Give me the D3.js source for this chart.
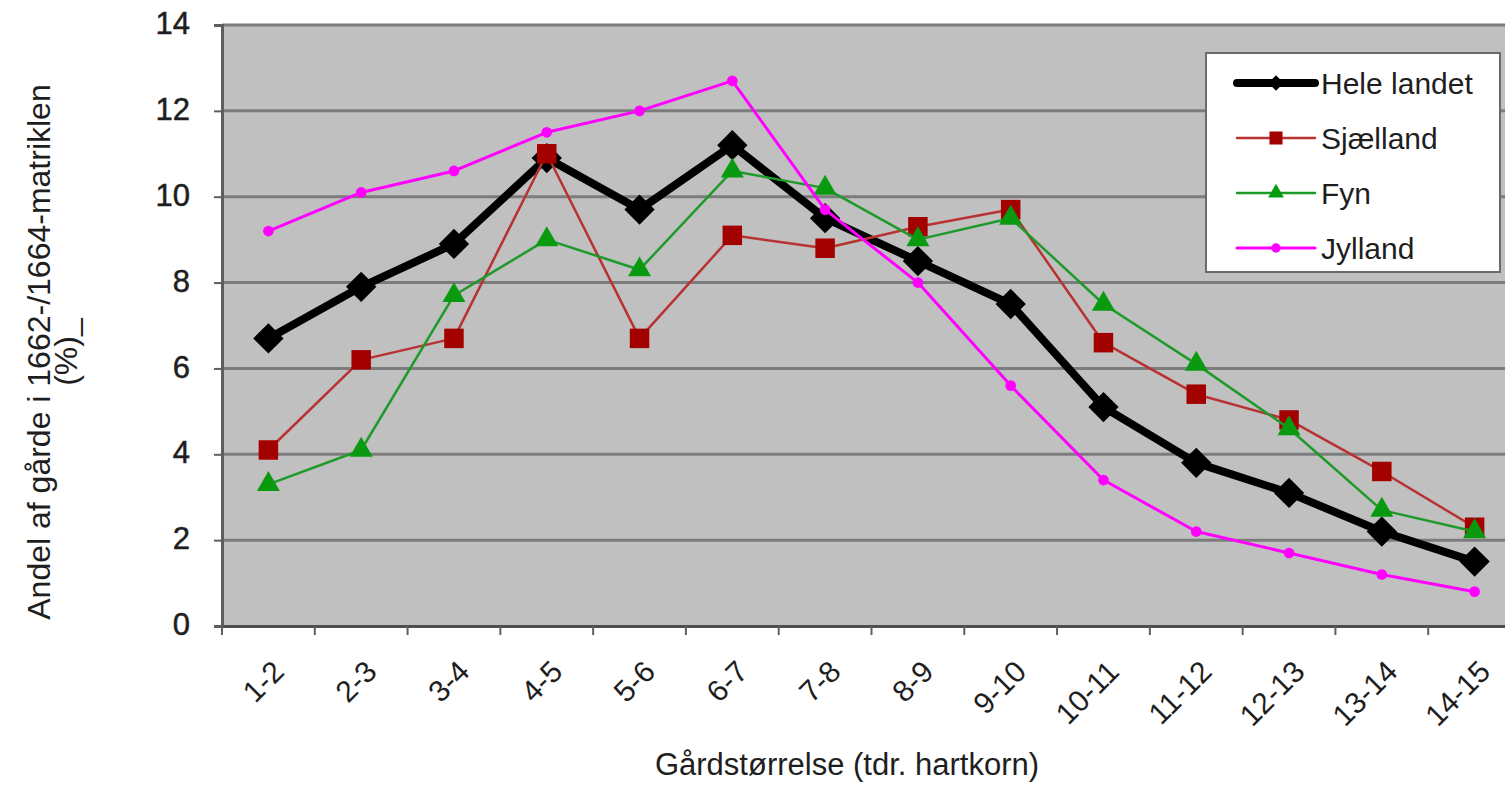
<!DOCTYPE html>
<html>
<head>
<meta charset="utf-8">
<script src="https://cdn.jsdelivr.net/npm/d3@7"></script>
<style>
  body { margin: 0; background: #fff; }
  text { font-family: "Liberation Sans", Arial, sans-serif; fill: #1e1e1e; }
</style>
</head>
<body>
<svg id="myGraph" width="1505" height="785"></svg>
<script>
// カテゴリ（gårdstørrelse）
var categories = ["1-2", "2-3", "3-4", "4-5", "5-6", "6-7", "7-8", "8-9", "9-10", "10-11", "11-12", "12-13", "13-14", "14-15"];
// 系列データ（%）
var heleLandet = [6.7, 7.9, 8.9, 10.9, 9.7, 11.2, 9.5, 8.5, 7.5, 5.1, 3.8, 3.1, 2.2, 1.5];
var sjaelland  = [4.1, 6.2, 6.7, 11.0, 6.7, 9.1, 8.8, 9.3, 9.7, 6.6, 5.4, 4.8, 3.6, 2.3];
var fyn        = [3.3, 4.1, 7.7, 9.0, 8.3, 10.6, 10.2, 9.0, 9.5, 7.5, 6.1, 4.6, 2.7, 2.2];
var jylland    = [9.2, 10.1, 10.6, 11.5, 12.0, 12.7, 9.7, 8.0, 5.6, 3.4, 2.2, 1.7, 1.2, 0.8];
var seriesNames = ["Hele landet", "Sjælland", "Fyn", "Jylland"];
var yTicks = [0, 2, 4, 6, 8, 10, 12, 14];

var svg = d3.select("#myGraph");
const LEFT = 222;
const RIGHT = 1521;
const TOP = 25;
const BOTTOM = 626;

var xscale = d3.scaleBand().domain(categories).range([LEFT, RIGHT]).padding(0);
var yscale = d3.scaleLinear().domain([0, 14]).range([BOTTOM, TOP]);

// 系列ごとのスタイル
var styles = [
  { data: heleLandet, line: "#000", mark: "#000", width: 8, shape: "diamond", size: 460, lsize: 120 },
  { data: sjaelland, line: "#b83232", mark: "#a30000", width: 2.5, shape: "square", size: 380, lsize: 170 },
  { data: fyn, line: "#1e9a2a", mark: "#0a9a10", width: 2.5, shape: "triangle", size: 230, lsize: 110 },
  { data: jylland, line: "#ff00ff", mark: "#ff00ff", width: 3, shape: "circle", size: 90, lsize: 70 }
];

function symbolPath(shape, size){
  var t = shape == "circle" ? d3.symbolCircle : shape == "triangle" ? d3.symbolTriangle : d3.symbolSquare;
  return d3.symbol().type(t).size(size)();
}

//背景
svg.append("rect")
  .attr("x", LEFT).attr("y", TOP)
  .attr("width", RIGHT - LEFT).attr("height", BOTTOM - TOP)
  .attr("fill", "#c0c0c0");

//目盛り線
svg.append("g")
  .selectAll("line")
  .data(yTicks.filter(function(d){ return d > 0; }))
  .enter()
  .append("line")
  .attr("x1", LEFT).attr("x2", RIGHT)
  .attr("y1", function(d){ return yscale(d); })
  .attr("y2", function(d){ return yscale(d); })
  .attr("stroke", "#7c7c7c")
  .attr("stroke-width", 3);

//Y軸
var axisY = svg.append("g")
  .attr("transform", "translate(" + LEFT + ",0)")
  .call(d3.axisLeft(yscale).tickValues(yTicks).tickSize(8).tickPadding(24));
axisY.select(".domain").attr("stroke", "#5e5e5e").attr("stroke-width", 3);
axisY.selectAll(".tick line").attr("stroke", "#5e5e5e").attr("stroke-width", 2);
axisY.selectAll(".tick text")
  .attr("font-size", 31)
  .attr("font-family", "Liberation Sans, Arial, sans-serif")
  .attr("fill", "#1e1e1e")
  .attr("stroke", "#1e1e1e").attr("stroke-width", 0.5)
  .attr("dy", "0.28em");

//X軸
var axisX = svg.append("g")
  .attr("transform", "translate(0," + BOTTOM + ")")
  .call(d3.axisBottom(xscale).tickSize(0).tickFormat(""));
axisX.select(".domain").attr("stroke", "#4e4e4e").attr("stroke-width", 3);
svg.append("g")
  .selectAll("line")
  .data(categories)
  .enter()
  .append("line")
  .attr("x1", function(d){ return xscale(d); })
  .attr("x2", function(d){ return xscale(d); })
  .attr("y1", BOTTOM).attr("y2", BOTTOM + 9)
  .attr("stroke", "#5e5e5e").attr("stroke-width", 2);

svg.append("g")
  .selectAll("text")
  .data(categories)
  .enter()
  .append("text")
  .attr("transform", function(d){
    return "translate(" + (xscale(d) + xscale.bandwidth() / 2 + 10) + "," + (BOTTOM + 40) + ") rotate(-45)";
  })
  .attr("text-anchor", "end")
  .attr("dy", "0.35em")
  .attr("font-size", 30)
  .text(function(d){ return d; });

//軸ラベル
svg.append("text")
  .attr("x", 847).attr("y", 775)
  .attr("text-anchor", "middle")
  .attr("font-size", 31)
  .text("Gårdstørrelse (tdr. hartkorn)");

var ylab = svg.append("text")
  .attr("transform", "translate(50,352) rotate(-90)")
  .attr("text-anchor", "middle")
  .attr("font-size", 32);
ylab.append("tspan").attr("x", 0).attr("y", 0).text("Andel af gårde i 1662-/1664-matriklen");
ylab.append("tspan").attr("x", 0).attr("y", 27).text("(%)_");

//折れ線
var line = d3.line()
  .x(function(d, i){ return xscale(categories[i]) + xscale.bandwidth() / 2; })
  .y(function(d){ return yscale(d); });

styles.forEach(function(s){
  var g = svg.append("g");
  g.append("path")
    .attr("d", line(s.data))
    .attr("fill", "none")
    .attr("stroke", s.line)
    .attr("stroke-width", s.width)
    .attr("stroke-linejoin", "round");
  g.selectAll("path.mark")
    .data(s.data)
    .enter()
    .append("path")
    .attr("class", "mark")
    .attr("d", symbolPath(s.shape, s.size))
    .attr("transform", function(d, i){
      var t = "translate(" + (xscale(categories[i]) + xscale.bandwidth() / 2) + "," + yscale(d) + ")";
      return s.shape == "diamond" ? t + " rotate(45)" : t;
    })
    .attr("fill", s.mark);
});

//凡例
var legend = svg.append("g");
legend.append("rect")
  .attr("x", 1206).attr("y", 53)
  .attr("width", 294).attr("height", 219)
  .attr("fill", "#fff")
  .attr("stroke", "#6a6a6a").attr("stroke-width", 2);

var rows = legend.selectAll("g.row")
  .data(styles)
  .enter()
  .append("g")
  .attr("class", "row")
  .attr("transform", function(d, i){ return "translate(1237," + (83 + i * 55) + ")"; });
rows.append("line")
  .attr("x1", 0).attr("x2", 78)
  .attr("stroke", function(d){ return d.line; })
  .attr("stroke-width", function(d){ return d.width; })
  .attr("stroke-linecap", "round");
rows.append("path")
  .attr("d", function(d){ return symbolPath(d.shape, d.lsize); })
  .attr("transform", function(d){ return d.shape == "diamond" ? "translate(39,0) rotate(45)" : "translate(39,0)"; })
  .attr("fill", function(d){ return d.mark; });
rows.append("text")
  .attr("x", 84).attr("dy", "0.35em")
  .attr("font-size", 30)
  .text(function(d, i){ return seriesNames[i]; });
</script>
</body>
</html>
